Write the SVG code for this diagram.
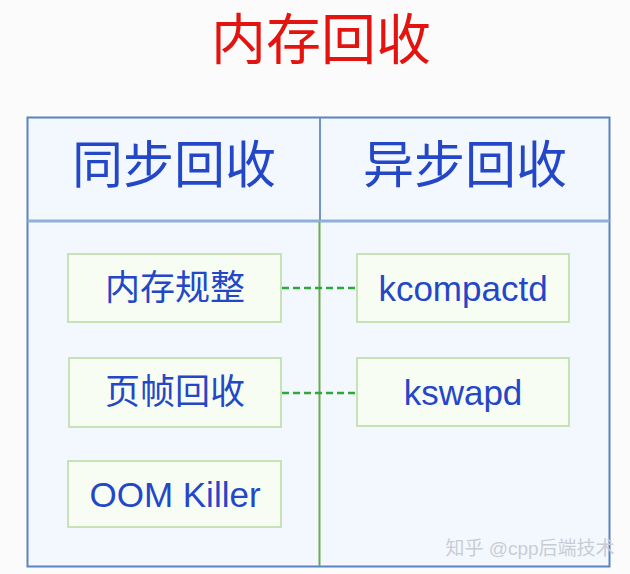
<svg xmlns="http://www.w3.org/2000/svg" width="630" height="574" viewBox="0 0 630 574">
<defs>
<style>
.t{font-family:"Liberation Sans","Noto Sans CJK SC",sans-serif;text-anchor:middle;dominant-baseline:central}
.box{fill:#f8fdf4;stroke:#c8e2b8;stroke-width:2}
.bt{fill:#2447c8;font-size:35px}
.ht{fill:#2447c8;font-size:51px}
.dash{stroke:#2fa83a;stroke-width:2.5;stroke-dasharray:7,4;fill:none}
</style>
</defs>
<rect width="630" height="574" fill="#fbfbfb"/>
<text x="321" y="59" font-family="Noto Sans CJK SC, sans-serif" text-anchor="middle" font-size="55" fill="#e3140f">内存回收</text>
<g id="frame">
<rect x="27.5" y="117.5" width="582" height="449" fill="#f3f8fe" stroke="#5b82c2" stroke-width="2"/>
<line x1="27.5" y1="221" x2="609.5" y2="221" stroke="#8fb0d8" stroke-width="3"/>
<line x1="320" y1="118" x2="320" y2="220" stroke="#6e94c8" stroke-width="2"/>
<line x1="319.5" y1="222" x2="319.5" y2="566" stroke="#6aab4c" stroke-width="2"/>
</g>
<g id="sync-header"><text class="t ht" x="174" y="165">同步回收</text></g>
<g id="async-header"><text class="t ht" x="465" y="165">异步回收</text></g>
<g id="connectors">
<line class="dash" x1="282" y1="288" x2="357" y2="288"/>
<line class="dash" x1="282" y1="393" x2="357" y2="393"/>
</g>
<g id="compact"><rect class="box" x="68" y="254" width="213" height="68"/><text class="t bt" x="175" y="287">内存规整</text></g>
<g id="kcompactd"><rect class="box" x="357" y="254" width="212" height="68"/><text class="t bt" x="463" y="288">kcompactd</text></g>
<g id="reclaim"><rect class="box" x="69" y="358" width="212" height="69"/><text class="t bt" x="175" y="391">页帧回收</text></g>
<g id="kswapd"><rect class="box" x="357" y="358" width="212" height="68"/><text class="t bt" x="463" y="392">kswapd</text></g>
<g id="oom"><rect class="box" x="68" y="461" width="213" height="66"/><text class="t bt" x="175" y="494">OOM Killer</text></g>
<text class="t" x="530" y="548" font-size="19" fill="#c9cdd3">知乎 @cpp后端技术</text>
</svg>
